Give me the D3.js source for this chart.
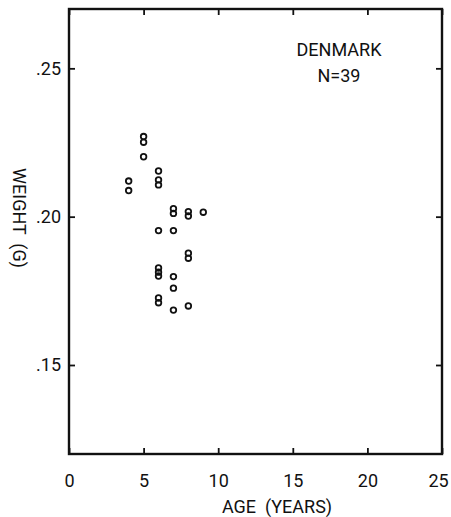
<!DOCTYPE html>
<html>
<head>
<meta charset="utf-8">
<script src="https://cdn.jsdelivr.net/npm/d3@7"></script>
<style>
  body { margin: 0; background: #fff; }
  text { font-family: Roboto, "DejaVu Sans", sans-serif; fill: #111; white-space: pre; }
</style>
</head>
<body>
<div id="chart"></div>
<script>
// age (years) and weight (g) of each visible point
const ages = [4, 4, 5, 5, 5, 6, 6, 6, 6, 6, 6, 6, 6, 6,
              7, 7, 7, 7, 7, 7, 8, 8, 8, 8, 8, 9];
const weights = [.212, .2088, .227, .2251, .2202, .2154, .2124, .2107, .1953, .1827, .1813, .18, .1726, .171,
                 .2027, .2011, .1953, .1798, .1759, .1685, .2017, .2002, .1877, .186, .1699, .2015];
const xTicks = [0, 5, 10, 15, 20, 25];
const yTicks = [.15, .20, .25];
const title = ["DENMARK", "N=39"];

const W = 451, H = 517;
const margin = {top: 9, right: 9, bottom: 63, left: 69};

const svg = d3.select("#chart").append("svg")
    .attr("width", W).attr("height", H);

const x = d3.scaleLinear().domain([0, 25]).range([margin.left, W - margin.right]);
const y = d3.scaleLinear().domain([.12, .27]).range([H - margin.bottom, margin.top]);

const tick = 6;

// bottom axis with labels
const gx = svg.append("g").attr("transform", `translate(0,${y.range()[0]})`)
    .call(d3.axisBottom(x).tickValues(xTicks).tickSize(-tick).tickPadding(20).tickFormat(d3.format("d")));
// top axis, marks only
const gxt = svg.append("g").attr("transform", `translate(0,${y.range()[1]})`)
    .call(d3.axisTop(x).tickValues(xTicks).tickSize(-tick).tickFormat(""));
// left axis with labels
const gy = svg.append("g").attr("transform", `translate(${x.range()[0]},0)`)
    .call(d3.axisLeft(y).tickValues(yTicks).tickSize(-tick).tickPadding(8)
      .tickFormat(d => d3.format(".2f")(d).replace(/^0/, "")));
// right axis, marks only
const gyr = svg.append("g").attr("transform", `translate(${x.range()[1]},0)`)
    .call(d3.axisRight(y).tickValues(yTicks).tickSize(-tick).tickFormat(""));

[gx, gxt, gy, gyr].forEach(g => {
  g.select(".domain").remove();
  g.selectAll(".tick line").attr("stroke", "#111").attr("stroke-width", 1.8);
  g.selectAll("text").style("font-family", "Roboto, sans-serif").style("font-size", "18px").attr("fill", "#111");
});
// keep the last x label inside the page
gx.selectAll(".tick text").filter(d => d === 25).attr("dx", -4);

// frame
svg.append("rect")
    .attr("x", x.range()[0]).attr("y", y.range()[1])
    .attr("width", x.range()[1] - x.range()[0])
    .attr("height", y.range()[0] - y.range()[1])
    .attr("fill", "none").attr("stroke", "#111").attr("stroke-width", 2.4);

// points
svg.selectAll(".pt")
    .data(ages.map((a, i) => ({age: a, w: weights[i]})))
    .enter().append("circle")
    .attr("class", "pt")
    .attr("cx", d => x(d.age))
    .attr("cy", d => y(d.w))
    .attr("r", 2.8)
    .attr("fill", "none")
    .attr("stroke", "#111")
    .attr("stroke-width", 1.8);

// titles
svg.selectAll(".title")
    .data(title).enter().append("text")
    .attr("class", "title")
    .attr("x", 339)
    .attr("y", (d, i) => 56 + i * 26)
    .attr("text-anchor", "middle")
    .style("font-size", "18px")
    .text(d => d);

// axis labels
svg.append("text")
    .attr("x", 277)
    .attr("y", 513)
    .attr("text-anchor", "middle")
    .style("font-size", "18px")
    .text("AGE  (YEARS)");

svg.append("text")
    .attr("transform", `translate(13,218) rotate(90)`)
    .attr("text-anchor", "middle")
    .style("font-size", "18px")
    .text("WEIGHT  (G)");
</script>
</body>
</html>
